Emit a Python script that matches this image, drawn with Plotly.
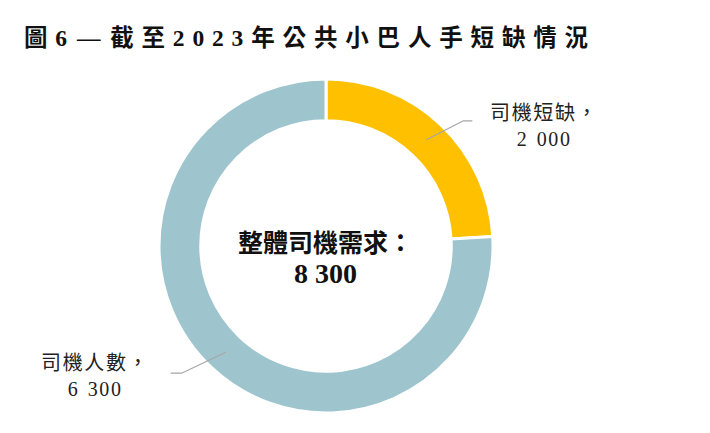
import math
import plotly.graph_objects as go

# Datos
categorias = ["司機短缺", "司機人數"]
valores = [2000, 6300]
etiquetas_valor = ["2 000", "6 300"]
colores = ["#FFC000", "#9EC5CE"]
titulo = "圖6 — 截至2023年公共小巴人手短缺情況"
centro_texto = "整體司機需求："
total_texto = "8 300"

W, H = 710, 433
OFF = 8  # margen del body en la página
cx, cy, R = 326, 246, 167
hole = 0.75


def px(x, y):
    # coordenadas de la página -> papel
    return (x - OFF) / W, 1 - (y - OFF) / H


def espaciar(texto, sep, sep_espacio):
    # simula el espaciado entre letras
    trozos = texto.split(" ")
    return sep_espacio.join(sep.join(t) for t in trozos)


fig = go.Figure()
x0d, y1d = px(cx - R, cy - R)
x1d, y0d = px(cx + R, cy + R)
fig.add_trace(go.Pie(
    labels=categorias, values=valores, hole=hole, sort=False,
    direction="clockwise", rotation=0,
    marker=dict(colors=colores, line=dict(color="white", width=3)),
    textinfo="none", hoverinfo="label+value", showlegend=False,
    domain=dict(x=[x0d, x1d], y=[y0d, y1d]),
))

# Líneas guía y etiquetas, desde el ángulo medio de cada sector
total = sum(valores)
acum = 0
r_mid = R * (1 + hole) / 2
for i, v in enumerate(valores):
    ang = (acum + v / 2) / total * 2 * math.pi
    acum += v
    x0 = cx + r_mid * math.sin(ang)
    y0 = cy - r_mid * math.cos(ang)
    if math.sin(ang) > 0:
        x1, y1, x2 = x0 + 37, y0 - 19, x0 + 46
        tx, ty = x2 + 71, y1 + 5
    else:
        x1, y1, x2 = x0 - 44, y0 + 21, x0 - 55
        tx, ty = x2 - 76, y1 + 3
    pts = [px(x0, y0), px(x1, y1), px(x2, y1)]
    path = "M {} {} L {} {} L {} {}".format(*[c for p in pts for c in p])
    fig.add_shape(type="path", path=path, xref="paper", yref="paper",
                  line=dict(color="#A6A6A6", width=1.3))
    ax, ay = px(tx, ty)
    linea1 = espaciar(categorias[i] + "，", "\u200a", " ")
    linea2 = espaciar(etiquetas_valor[i], "\u200a", "\u2002")
    fig.add_annotation(
        x=ax, y=ay, xref="paper", yref="paper", showarrow=False,
        text=f"{linea1}<br>{linea2}",
        align="center", xanchor="center", yanchor="middle",
        font=dict(family="Liberation Serif, Noto Sans CJK TC", size=20, color="#222222"),
    )

# Texto central
ax, ay = px(cx - 1, 256)
fig.add_annotation(
    x=ax, y=ay, xref="paper", yref="paper", showarrow=False,
    text=(f"<span style='font-family:Noto Sans CJK TC;font-size:25px'><b>{centro_texto}</b></span>"
          f"<br><span style='font-family:Liberation Serif;font-size:28px'><b>{total_texto}</b></span>"),
    xanchor="center", yanchor="middle", align="center",
    font=dict(family="Liberation Serif, Noto Sans CJK TC", size=23.5, color="#111111"),
)

# Título con espaciado entre caracteres
ax, ay = px(22, 38)
fig.add_annotation(
    x=ax, y=ay, xref="paper", yref="paper", showarrow=False,
    text=f"<b>{espaciar(titulo, chr(0x2004), chr(0x2004) + chr(0x200a))}</b>",
    xanchor="left", yanchor="middle",
    font=dict(family="Liberation Serif, Noto Sans CJK TC", size=23.5, color="#111111"),
)

fig.update_layout(
    width=W, height=H, margin=dict(l=0, r=0, t=0, b=0),
    paper_bgcolor="white", plot_bgcolor="white",
)
fig.write_html("out.html")
